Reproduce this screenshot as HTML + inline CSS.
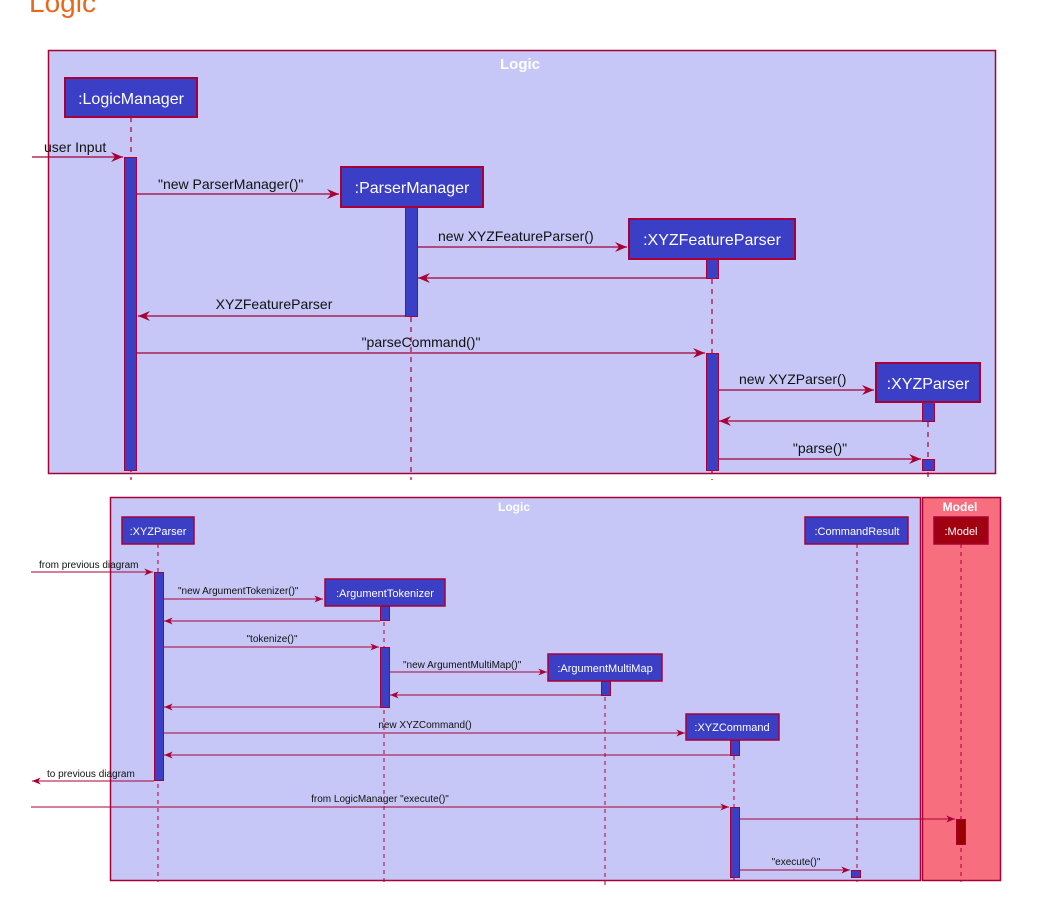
<!DOCTYPE html>
<html><head><meta charset="utf-8"><style>
html,body{margin:0;padding:0;background:#fff;width:1050px;height:902px;overflow:hidden}
svg{display:block}
text{font-family:"Liberation Sans",sans-serif}
</style></head><body>
<svg width="1050" height="902" viewBox="0 0 1050 902" xmlns="http://www.w3.org/2000/svg">
<defs>
<marker id="a" viewBox="0 0 12 10" refX="12" refY="5" markerWidth="12" markerHeight="10" markerUnits="userSpaceOnUse" orient="auto"><path d="M0,0 L12,5 L0,10 L4,5 Z" fill="#a80036"/></marker>
<marker id="s" viewBox="0 0 10 8" refX="10" refY="4" markerWidth="9" markerHeight="7" markerUnits="userSpaceOnUse" orient="auto"><path d="M0,0 L10,4 L0,8 L3,4 Z" fill="#a80036"/></marker>
</defs>
<text x="29" y="12" font-size="28" fill="#e8671c">Logic</text>

<!-- TOP DIAGRAM -->
<rect x="48.5" y="50.5" width="947" height="423" fill="#c6c7f7" stroke="#a80036" stroke-width="1.5"/>
<text x="520" y="69" font-size="15" font-weight="bold" fill="#fff" text-anchor="middle">Logic</text>
<g stroke="#a80036" stroke-width="1.2" stroke-dasharray="5,5">
<line x1="131" y1="117" x2="131" y2="480"/>
<line x1="411" y1="207" x2="411" y2="480"/>
<line x1="712" y1="259" x2="712" y2="480"/>
<line x1="928" y1="402" x2="928" y2="480"/>
</g>
<g fill="#3a3fc6" stroke="#a80036" stroke-width="2" font-size="16">
<rect x="65" y="78" width="132" height="39"/>
<rect x="341" y="167" width="142" height="40"/>
<rect x="629" y="219" width="166" height="40"/>
<rect x="876" y="363" width="104" height="39"/>
</g>
<g fill="#fff" font-size="16" text-anchor="middle">
<text x="131" y="104">:LogicManager</text>
<text x="412" y="193">:ParserManager</text>
<text x="712" y="245">:XYZFeatureParser</text>
<text x="928" y="389">:XYZParser</text>
</g>
<g fill="#3a3fc6" stroke="#a80036" stroke-width="1">
<rect x="124.5" y="157.5" width="12" height="313"/>
<rect x="405.5" y="207.5" width="12" height="109"/>
<rect x="706.5" y="259.5" width="12" height="19"/>
<rect x="706.5" y="353.5" width="12" height="117"/>
<rect x="922.5" y="402.5" width="12" height="19"/>
<rect x="922.5" y="459.5" width="12" height="11"/>
</g>
<g stroke="#a80036" stroke-width="1.3" fill="none" marker-end="url(#a)">
<line x1="32" y1="157" x2="123" y2="157"/>
<line x1="137" y1="194" x2="339" y2="194"/>
<line x1="418" y1="247" x2="627" y2="247"/>
<line x1="706" y1="278" x2="418" y2="278"/>
<line x1="405" y1="316" x2="138" y2="316"/>
<line x1="137" y1="353" x2="705" y2="353"/>
<line x1="719" y1="390" x2="874" y2="390"/>
<line x1="922" y1="421" x2="719" y2="421"/>
<line x1="719" y1="459" x2="921" y2="459"/>
</g>
<g fill="#111" font-size="14">
<text x="44" y="152">user Input</text>
<text x="158" y="189">"new ParserManager()"</text>
<text x="438" y="241">new XYZFeatureParser()</text>
<text x="274" y="309" text-anchor="middle">XYZFeatureParser</text>
<text x="421" y="347" text-anchor="middle">"parseCommand()"</text>
<text x="739" y="384">new XYZParser()</text>
<text x="820" y="453" text-anchor="middle">"parse()"</text>
</g>

<!-- BOTTOM DIAGRAM -->
<rect x="110.5" y="497.5" width="810" height="383" fill="#c6c7f7" stroke="#a80036" stroke-width="1.5"/>
<rect x="922.5" y="497.5" width="78" height="383" fill="#f76e7e" stroke="#a80036" stroke-width="1.5"/>
<text x="514" y="511" font-size="12" font-weight="bold" fill="#fff" text-anchor="middle">Logic</text>
<text x="960" y="511" font-size="12" font-weight="bold" fill="#fff" text-anchor="middle">Model</text>
<g stroke="#a80036" stroke-width="1" stroke-dasharray="4,4">
<line x1="158" y1="544" x2="158" y2="882"/>
<line x1="384" y1="606" x2="384" y2="882"/>
<line x1="605" y1="681" x2="605" y2="886"/>
<line x1="734" y1="740" x2="734" y2="882"/>
<line x1="857" y1="544" x2="857" y2="882"/>
<line x1="961" y1="544" x2="961" y2="882"/>
</g>
<g stroke="#a80036" stroke-width="1.5" fill="#3a3fc6">
<rect x="122" y="517" width="72" height="27"/>
<rect x="325" y="579" width="120" height="27"/>
<rect x="548" y="654" width="114" height="27"/>
<rect x="686" y="714" width="93" height="26"/>
<rect x="805" y="517" width="103" height="27"/>
<rect x="934" y="517" width="54" height="27" fill="#a00010"/>
</g>
<g fill="#fff" font-size="11" text-anchor="middle">
<text x="158" y="535">:XYZParser</text>
<text x="385" y="597">:ArgumentTokenizer</text>
<text x="605" y="672">:ArgumentMultiMap</text>
<text x="732" y="731">:XYZCommand</text>
<text x="857" y="535">:CommandResult</text>
<text x="961" y="535">:Model</text>
</g>
<g fill="#3a3fc6" stroke="#a80036" stroke-width="1">
<rect x="154.5" y="572.5" width="9" height="208"/>
<rect x="380.5" y="606.5" width="9" height="14"/>
<rect x="380.5" y="647.5" width="9" height="60"/>
<rect x="601.5" y="681.5" width="9" height="14"/>
<rect x="730.5" y="740.5" width="9" height="15"/>
<rect x="730.5" y="807.5" width="9" height="70"/>
<rect x="851.5" y="870.5" width="9" height="7"/>
<rect x="956.5" y="819.5" width="9" height="25" fill="#990000"/>
</g>
<g stroke="#a80036" stroke-width="1" fill="none" marker-end="url(#s)">
<line x1="31" y1="572" x2="153" y2="572"/>
<line x1="164" y1="599" x2="323" y2="599"/>
<line x1="380" y1="621" x2="164" y2="621"/>
<line x1="164" y1="647" x2="379" y2="647"/>
<line x1="390" y1="672" x2="547" y2="672"/>
<line x1="601" y1="695" x2="390" y2="695"/>
<line x1="380" y1="707" x2="164" y2="707"/>
<line x1="164" y1="733" x2="685" y2="733"/>
<line x1="730" y1="755" x2="164" y2="755"/>
<line x1="154" y1="781" x2="32" y2="781"/>
<line x1="31" y1="807" x2="729" y2="807"/>
<line x1="740" y1="819" x2="955" y2="819"/>
<line x1="740" y1="870" x2="850" y2="870"/>
</g>
<g fill="#111" font-size="10">
<text x="39" y="568">from previous diagram</text>
<text x="178" y="594">"new ArgumentTokenizer()"</text>
<text x="272" y="642" text-anchor="middle">"tokenize()"</text>
<text x="403" y="668">"new ArgumentMultiMap()"</text>
<text x="425" y="728" text-anchor="middle">new XYZCommand()</text>
<text x="47" y="777">to previous diagram</text>
<text x="380" y="802" text-anchor="middle">from LogicManager "execute()"</text>
<text x="796" y="865" text-anchor="middle">"execute()"</text>
</g>
</svg>
</body></html>
